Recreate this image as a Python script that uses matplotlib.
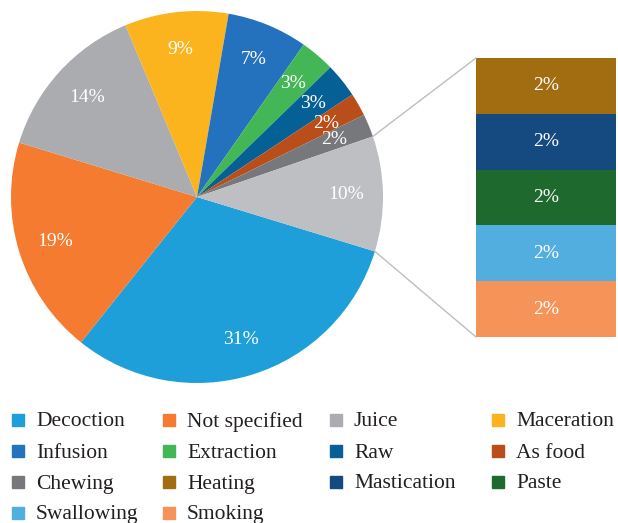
import matplotlib.pyplot as plt
from matplotlib.patches import ConnectionPatch, Rectangle
import numpy as np

plt.rcParams['font.family'] = ['Liberation Serif', 'DejaVu Serif']

# main pie (clockwise from the "other" slice)
pie_labels = ["Decoction", "Not specified", "Juice", "Maceration", "Infusion",
              "Extraction", "Raw", "As food", "Chewing", "Other"]
pie_values = [31, 19, 14, 9, 7, 3, 3, 2, 2, 10]
pie_colors = ['#1E9FD9', '#F47B2F', '#ABACAF', '#FBB41E', '#2471BD',
              '#43B755', '#046095', '#B94E1A', '#77787C', '#BEBFC2']

# breakdown of "Other" (top to bottom in the bar)
bar_labels = ["Heating", "Mastication", "Paste", "Swallowing", "Smoking"]
bar_values = [2, 2, 2, 2, 2]
bar_colors = ['#A16D10', '#144A80', '#1E6A2E', '#52AEDF', '#F69358']

W, H = 618, 523
fig = plt.figure(figsize=(W / 100, H / 100), dpi=100)

# pie axes: centre (197,197) px, radius 186 px
cx, cy, r = 197, 197, 186
ax = fig.add_axes([(cx - r) / W, (H - cy - r) / H, 2 * r / W, 2 * r / H])
start = -17
wedges, _, autotexts = ax.pie(pie_values, colors=pie_colors, startangle=start,
                              counterclock=False, autopct='%d%%', pctdistance=0.8,
                              wedgeprops=dict(linewidth=0))
for t in autotexts:
    t.set_color('white')
    t.set_fontsize(14)
ax.set_xlim(-1, 1)
ax.set_ylim(-1, 1)

# bar of the "Other" slice
bx0, bx1, by0, by1 = 476, 616, 58, 337
bax = fig.add_axes([bx0 / W, (H - by1) / H, (bx1 - bx0) / W, (by1 - by0) / H])
bottom = sum(bar_values)
for lab, v, c in zip(bar_labels, bar_values, bar_colors):
    bottom -= v
    bax.bar(0, v, bottom=bottom, width=1, color=c, linewidth=0)
    bax.text(0, bottom + v / 2, f"{v}%", color='white', fontsize=14,
             ha='center', va='center')
bax.set_xlim(-0.5, 0.5)
bax.set_ylim(0, sum(bar_values))
bax.axis('off')

# connector lines
other = wedges[-1]
for ang, ybar in [(other.theta2, sum(bar_values)), (other.theta1, 0)]:
    p = (np.cos(np.radians(ang)), np.sin(np.radians(ang)))
    con = ConnectionPatch(xyA=p, coordsA=ax.transData, xyB=(-0.5, ybar),
                          coordsB=bax.transData, color='#BEBEBE', linewidth=1)
    fig.add_artist(con)

# legend, 4 columns
leg_labels = pie_labels[:-1] + bar_labels
leg_colors = pie_colors[:-1] + bar_colors
col_x = [12, 163, 330, 492]
row_y = [420, 451, 482, 513]
for i, (lab, c) in enumerate(zip(leg_labels, leg_colors)):
    x = col_x[i % 4]
    y = row_y[i // 4]
    fig.add_artist(Rectangle((x / W, (H - y - 6) / H), 12 / W, 12 / H,
                             color=c, transform=fig.transFigure))
    fig.text((x + 24) / W, (H - y - 2) / H, lab, fontsize=15.5, color='#231F20',
             va='center', ha='left')

fig.savefig("out.png", dpi=100)
